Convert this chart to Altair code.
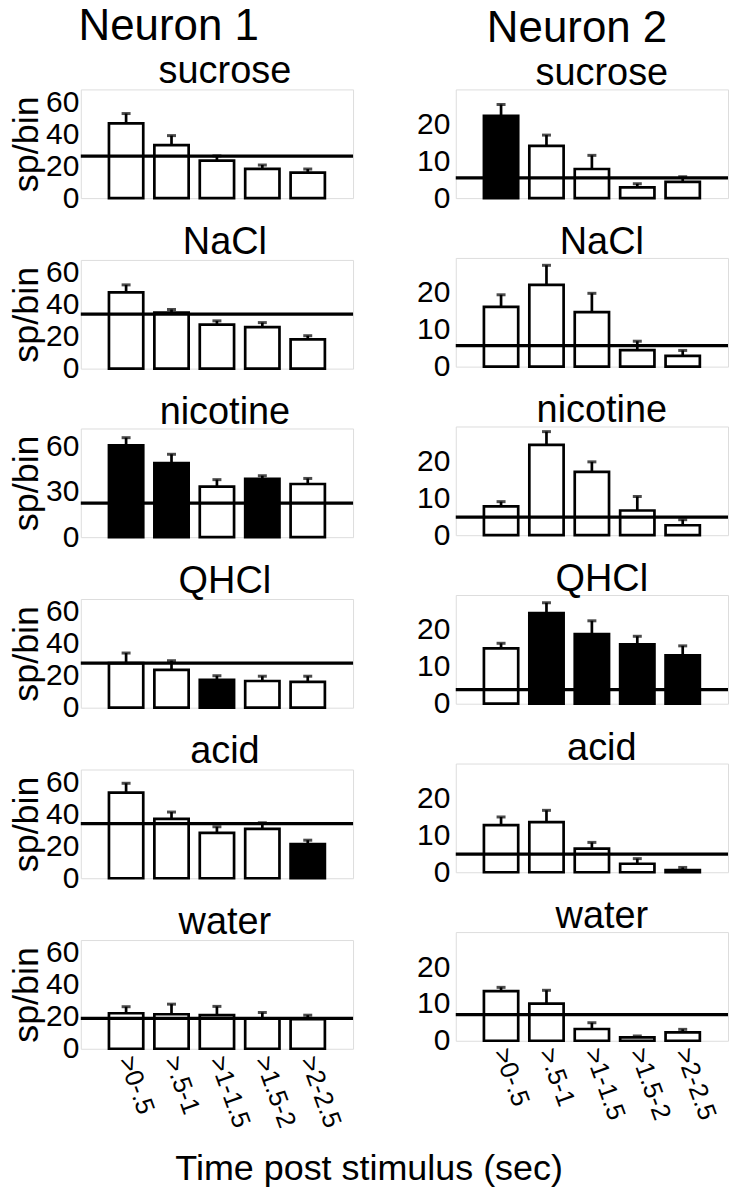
import altair as alt
import pandas as pd

bins = [">0-.5", ">.5-1", ">1-1.5", ">1.5-2", ">2-2.5"]
stimuli = ["sucrose", "NaCl", "nicotine", "QHCl", "acid", "water"]

# Neuron 1 (left column)
n1_mean = [
    [46.7, 33.2, 23.5, 18.3, 15.9],
    [47.7, 35.0, 27.5, 26.0, 18.3],
    [60.8, 49.0, 33.5, 38.7, 35.2],
    [27.9, 23.7, 17.4, 16.7, 16.1],
    [53.5, 37.1, 28.4, 30.9, 21.3],
    [22.2, 21.6, 21.0, 19.0, 18.5],
]
n1_err = [
    [6.2, 5.9, 2.9, 2.4, 2.3],
    [4.7, 2.0, 2.4, 2.8, 2.3],
    [5.1, 5.9, 4.6, 2.0, 3.7],
    [6.3, 5.7, 2.6, 3.0, 3.6],
    [5.9, 4.3, 3.8, 3.8, 2.5],
    [4.1, 6.3, 5.5, 3.7, 2.5],
]
n1_sig = [
    [0, 0, 0, 0, 0],
    [0, 0, 0, 0, 0],
    [1, 1, 0, 1, 0],
    [0, 0, 1, 0, 0],
    [0, 0, 0, 0, 1],
    [0, 0, 0, 0, 0],
]
n1_ref = [26.3, 34.1, 22.5, 27.9, 34.1, 19.0]
n1_ymax = [68, 68, 72, 68, 68, 68]
n1_ticks = [[0, 20, 40, 60], [0, 20, 40, 60], [0, 30, 60],
            [0, 20, 40, 60], [0, 20, 40, 60], [0, 20, 40, 60]]

# Neuron 2 (right column)
n2_mean = [
    [22.3, 14.2, 7.9, 2.9, 4.4],
    [16.2, 22.2, 14.8, 4.5, 2.9],
    [7.8, 24.5, 17.2, 6.7, 2.7],
    [15.0, 24.6, 18.9, 16.1, 13.1],
    [12.8, 13.6, 6.4, 2.3, 0.6],
    [13.5, 10.1, 3.2, 0.9, 2.3],
]
n2_err = [
    [3.1, 2.9, 3.7, 1.0, 1.4],
    [3.3, 5.3, 5.1, 2.4, 1.5],
    [1.3, 3.6, 2.7, 3.8, 1.5],
    [1.4, 2.8, 3.6, 2.2, 2.6],
    [2.2, 3.2, 1.7, 1.4, 0.7],
    [1.0, 3.6, 1.7, 0.4, 0.8],
]
n2_sig = [
    [1, 0, 0, 0, 0],
    [0, 0, 0, 0, 0],
    [0, 0, 0, 0, 0],
    [0, 1, 1, 1, 1],
    [0, 0, 0, 0, 0],
    [0, 0, 0, 0, 0],
]
n2_ref = [5.5, 5.7, 4.9, 3.8, 4.9, 7.1]
n2_ymax = [29.5] * 6
n2_ticks = [[0, 10, 20]] * 6

FONT = "Liberation Sans"
W, H = 273, 109


def panel(means, errs, sigs, ref, ymax, ticks, stim, left, bottom):
    df = pd.DataFrame({
        "bin": bins,
        "mean": means,
        "upper": [m + e for m, e in zip(means, errs)],
        "sig": ["s" if s else "n" for s in sigs],
    })
    rdf = pd.DataFrame({"ref": [ref]})
    if bottom:
        xaxis = alt.Axis(labelAngle=70, labelAlign="left", labelBaseline="middle",
                         labelFontSize=26, labelFont=FONT, labelColor="black",
                         labelPadding=8, domain=False, ticks=False, title="")
    else:
        xaxis = None
    x = alt.X("bin:N", sort=bins,
              scale=alt.Scale(paddingInner=0.245, paddingOuter=0.62),
              axis=xaxis)
    yaxis = alt.Axis(values=ticks, labelFontSize=30, labelFont=FONT,
                     labelColor="black", labelPadding=2 if left else 6,
                     domain=False, ticks=False, grid=False,
                     titleFontSize=36, titleFont=FONT, titleFontWeight="normal",
                     titleColor="black", titlePadding=0)
    ysc = alt.Scale(domain=[0, ymax], nice=False, zero=True)
    ttl = "sp/bin" if left else ""

    def Y(f):
        return alt.Y(f, type="quantitative", scale=ysc, axis=yaxis, title=ttl)

    base = alt.Chart(df)
    bars = base.mark_bar(stroke="black", strokeWidth=2.7).encode(
        x=x, y=Y("mean"),
        fill=alt.Fill("sig:N", scale=alt.Scale(domain=["n", "s"], range=["white", "black"]), legend=None),
    )
    err = base.mark_rule(color="black", strokeWidth=2.7).encode(
        x=x, y=Y("mean"), y2="upper")
    cap = base.mark_tick(color="black", thickness=3, size=9).encode(
        x=x, y=Y("upper"))
    refl = alt.Chart(rdf).mark_rule(color="black", strokeWidth=3.2).encode(y=Y("ref"))
    return alt.layer(bars, err, cap, refl).properties(
        width=W, height=H,
        title=alt.TitleParams(stim, fontSize=38, font=FONT, fontWeight="normal",
                              color="black", offset=-4,
                              dx=8 if left else 10),
    )


def column(mean, err, sig, ref, ymax, ticks, left, name):
    panels = [panel(mean[i], err[i], sig[i], ref[i], ymax[i], ticks[i], stimuli[i], left, i == 5)
              for i in range(6)]
    return alt.vconcat(*panels, spacing=9).properties(
        title=alt.TitleParams(name, fontSize=44, font=FONT, fontWeight="normal",
                              color="black", baseline="alphabetic", offset=-31,
                              anchor="middle", dx=-13 if left else 4))


col1 = column(n1_mean, n1_err, n1_sig, n1_ref, n1_ymax, n1_ticks, True, "Neuron 1")
col2 = column(n2_mean, n2_err, n2_sig, n2_ref, n2_ymax, n2_ticks, False, "Neuron 2")

chart = alt.hconcat(col1, col2, spacing=60).properties(
    title=alt.TitleParams("Time post stimulus (sec)", orient="bottom", anchor="middle",
                          fontSize=36, font=FONT, fontWeight="normal", color="black", offset=21),
    padding={"left": 0, "top": -5, "right": 0, "bottom": 0},
).configure_view(stroke="#999999", strokeWidth=1).configure(font=FONT)

chart.save("out.html", embed_options={"renderer": "svg", "actions": False})
